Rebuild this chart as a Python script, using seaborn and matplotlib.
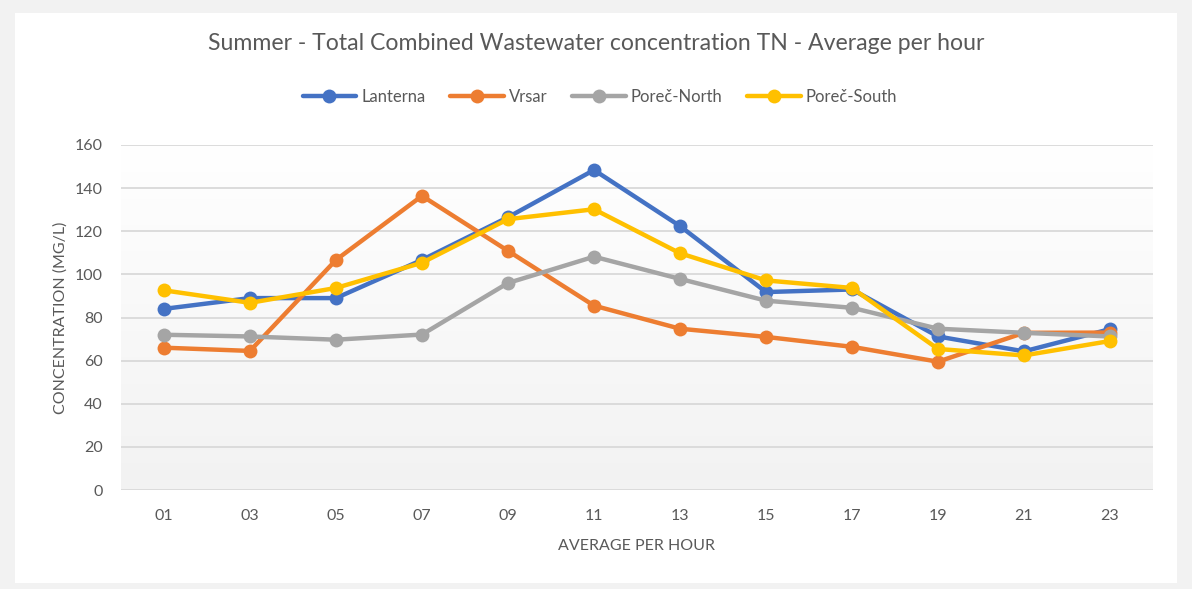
import numpy as np
import pandas as pd
import matplotlib
matplotlib.use("Agg")
import matplotlib.pyplot as plt
import seaborn as sns
from matplotlib.patches import Rectangle
from matplotlib.lines import Line2D
from matplotlib.colors import LinearSegmentedColormap

hours = ["01", "03", "05", "07", "09", "11", "13", "15", "17", "19", "21", "23"]
lanterna = [84.0, 89.0, 89.0, 106.7, 126.5, 148.4, 122.4, 91.8, 93.0, 71.2, 64.3, 74.6]
vrsar = [66.0, 64.5, 106.7, 136.4, 110.9, 85.5, 74.8, 71.0, 66.4, 59.5, 72.9, 73.0]
porec_north = [72.0, 71.2, 69.7, 72.1, 96.0, 108.2, 97.9, 87.8, 84.5, 74.8, 72.9, 71.2]
porec_south = [92.6, 86.8, 93.7, 105.4, 125.6, 130.2, 109.8, 97.2, 93.7, 65.4, 62.4, 69.1]

series_names = ["Lanterna", "Vrsar", "Poreč-North", "Poreč-South"]
series_vals = [lanterna, vrsar, porec_north, porec_south]
colors = ["#4472C4", "#ED7D31", "#A5A5A5", "#FFC000"]

title = "Summer - Total Combined Wastewater concentration TN - Average per hour"
xlabel = "AVERAGE PER HOUR"
ylabel = "CONCENTRATION (MG/L)"
yticks = [0, 20, 40, 60, 80, 100, 120, 140, 160]

rows = []
for name, vals in zip(series_names, series_vals):
    for i, (h, v) in enumerate(zip(hours, vals)):
        rows.append({"pos": i, "hour": h, "value": v, "site": name})
df = pd.DataFrame(rows)

sns.set_theme(style="white")
plt.rcParams["font.family"] = ["Lato", "DejaVu Sans"]

W, H = 1192, 589
fig = plt.figure(figsize=(W / 100, H / 100), dpi=100)
fig.patch.set_facecolor("#F2F2F2")
fig.patches.append(Rectangle((15 / W, 1 - 583 / H), (1177 - 15) / W, (583 - 13) / H,
                             transform=fig.transFigure, facecolor="white",
                             edgecolor="none", zorder=-10))

left, right, top, bottom = 121, 1153, 145, 490
ax = fig.add_axes([left / W, 1 - bottom / H, (right - left) / W, (bottom - top) / H])
ax.set_zorder(5)
ax.set_facecolor("none")

# gradient background
grad = np.linspace(0, 1, 256).reshape(-1, 1)
cmap = LinearSegmentedColormap.from_list("g", ["#F2F2F2", "#FFFFFF"])
ax.imshow(grad, extent=(-0.5, 11.5, 0, 160), origin="lower", aspect="auto",
          cmap=cmap, zorder=0)

for y in yticks:
    ax.axhline(y, color="#D9D9D9", lw=1.3, zorder=1)

sns.lineplot(data=df, x="pos", y="value", hue="site", palette=colors,
             hue_order=series_names, marker="o", markersize=10, linewidth=3.2,
             markeredgewidth=0, ax=ax, legend=False, zorder=3)

ax.set_xlim(-0.5, 11.5)
ax.set_ylim(0, 160)
ax.set_xticks(range(len(hours)))
ax.set_xticklabels(hours)
ax.set_yticks(yticks)
ax.tick_params(axis="both", length=0, labelsize=11.5, labelcolor="#595959")
ax.tick_params(axis="x", pad=14)
ax.tick_params(axis="y", pad=13)
for s in ax.spines.values():
    s.set_visible(False)
ax.set_xlabel(xlabel, fontsize=11.5, color="#595959", labelpad=11)
ax.set_ylabel(ylabel, fontsize=11.5, color="#595959", labelpad=5)

fig.text(596 / W, 1 - 44 / H, title, ha="center", va="center", fontsize=16.6, color="#595959")

handles = [Line2D([0], [0], color=c, lw=3.2, marker="o", markersize=10, markeredgewidth=0)
           for c in colors]
fig.legend(handles, series_names, loc="center", bbox_to_anchor=(600 / W, 1 - 97 / H),
           ncol=4, frameon=False, fontsize=12, labelcolor="#595959",
           handlelength=3.2, handletextpad=0.3, columnspacing=1.5)

fig.savefig("out.png", dpi=100, facecolor=fig.get_facecolor())
